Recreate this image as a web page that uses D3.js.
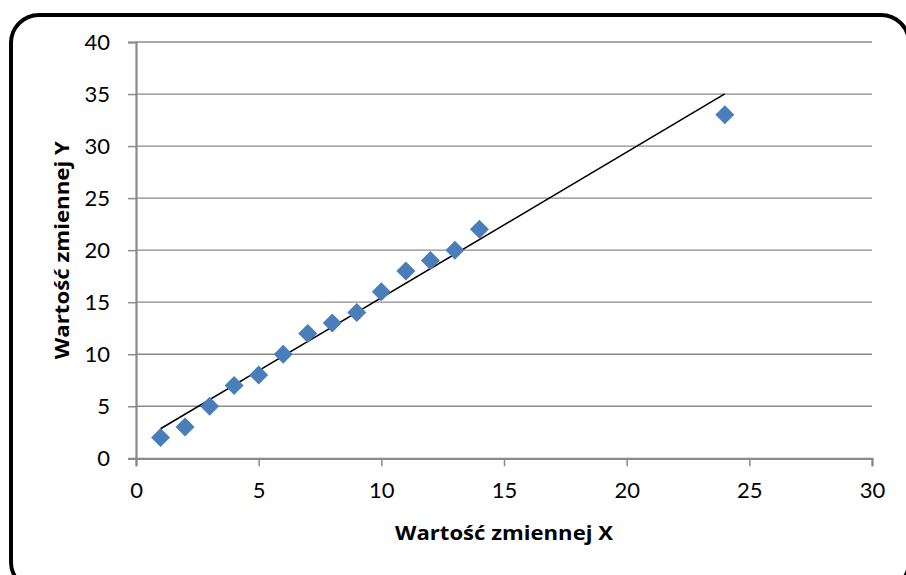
<!DOCTYPE html>
<html>
<head>
<meta charset="utf-8">
<script src="https://cdn.jsdelivr.net/npm/d3@7.9.0/dist/d3.min.js"></script>
<style>
  html, body { margin: 0; padding: 0; background: #fff; }
  svg { display: block; font-family: Lato, "Open Sans", sans-serif; }
</style>
</head>
<body>
<svg id="vis"></svg>
<script>
const width = 906;
const height = 575;

// data
const xValues = [1, 2, 3, 4, 5, 6, 7, 8, 9, 10, 11, 12, 13, 14, 24];
const yValues = [2, 3, 5, 7, 8, 10, 12, 13, 14, 16, 18, 19, 20, 22, 33];
const xTicks = [0, 5, 10, 15, 20, 25, 30];
const yTicks = [0, 5, 10, 15, 20, 25, 30, 35, 40];
const xTitle = "Wartość zmiennej X";
const yTitle = "Wartość zmiennej Y";

const points = xValues.map((x, i) => ({ x, y: yValues[i] }));

const margin = { left: 136, right: 34, top: 42, bottom: 116 };

const vis = d3.select("#vis")
    .attr("width", width)
    .attr("height", height);

// outer rounded frame
vis.append("rect")
    .attr("x", 11)
    .attr("y", 15)
    .attr("width", 898)
    .attr("height", 575)
    .attr("rx", 28)
    .attr("fill", "#fff")
    .attr("stroke", "#000")
    .attr("stroke-width", 4);

const x = d3.scaleLinear()
    .domain([0, 30])
    .range([margin.left, width - margin.right]);

const y = d3.scaleLinear()
    .domain([0, 40])
    .range([height - margin.bottom - 0.7, margin.top]);

// gridlines
vis.append("g")
    .selectAll("line")
    .data(yTicks.filter(d => d > 0))
    .join("line")
    .attr("x1", x(0))
    .attr("x2", x(30))
    .attr("y1", d => y(d))
    .attr("y2", d => y(d))
    .attr("stroke", "#8a8a8a")
    .attr("stroke-width", 1.3);

// y axis
const yAxis = vis.append("g")
    .attr("transform", `translate(${x(0)},0)`)
    .call(d3.axisLeft(y).tickValues(yTicks).tickSize(8).tickPadding(18));

// x axis
const xAxis = vis.append("g")
    .attr("transform", `translate(0,${y(0)})`)
    .call(d3.axisBottom(x).tickValues(xTicks).tickSize(8).tickPadding(16));

[xAxis, yAxis].forEach(ax => {
    ax.select(".domain").attr("stroke", "#8a8a8a").attr("stroke-width", 2.2);
    ax.selectAll(".tick line").attr("stroke", "#8a8a8a").attr("stroke-width", 1.5);
    ax.selectAll(".tick text")
        .attr("fill", "#000")
        .style("font-family", "Lato, sans-serif")
        .style("font-size", "22px");
});

// linear trendline from least squares fit of the data
const mx = d3.mean(points, d => d.x);
const my = d3.mean(points, d => d.y);
const slope = d3.sum(points, d => (d.x - mx) * (d.y - my)) / d3.sum(points, d => (d.x - mx) ** 2);
const intercept = my - slope * mx;
const [xMin, xMax] = d3.extent(xValues);

vis.append("line")
    .attr("x1", x(xMin))
    .attr("y1", y(intercept + slope * xMin))
    .attr("x2", x(xMax))
    .attr("y2", y(intercept + slope * xMax))
    .attr("stroke", "#000")
    .attr("stroke-width", 1.6);

// diamond markers
vis.append("g")
    .selectAll("path")
    .data(points)
    .join("path")
    .attr("transform", d => `translate(${x(d.x)},${y(d.y)})`)
    .attr("d", "M0,-9.5L9.5,0L0,9.5L-9.5,0Z")
    .attr("fill", "#4a7ebb");

// axis titles
vis.append("text")
    .attr("x", 504)
    .attr("y", 540)
    .attr("text-anchor", "middle")
    .attr("textLength", 218)
    .attr("lengthAdjust", "spacingAndGlyphs")
    .style("font-family", "'Open Sans', sans-serif")
    .style("font-weight", "bold")
    .style("font-size", "19px")
    .text(xTitle);

vis.append("text")
    .attr("transform", `translate(69,${y(20)}) rotate(-90)`)
    .attr("text-anchor", "middle")
    .attr("textLength", 218)
    .attr("lengthAdjust", "spacingAndGlyphs")
    .style("font-family", "'Open Sans', sans-serif")
    .style("font-weight", "bold")
    .style("font-size", "19px")
    .text(yTitle);
</script>
</body>
</html>
